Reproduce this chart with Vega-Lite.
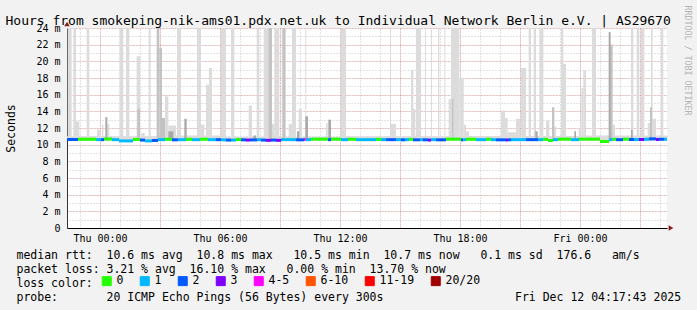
{
  "$schema": "https://vega.github.io/schema/vega-lite/v6.json",
  "width": 600,
  "height": 200,
  "autosize": {"type": "none"},
  "padding": {"left": 67, "top": 28, "right": 30, "bottom": 82},
  "background": "#f2f2f2",
  "config": {
    "font": "DejaVu Sans Mono",
    "view": {"fill": "#ffffff", "stroke": null}
  },
  "resolve": {"axis": {"x": "independent", "y": "independent"}},
  "datasets": {
    "smoke": [
      {"t": "2025-12-10T22:21", "t2": "2025-12-11T03:00", "lo": 10.45, "hi": 11.0, "s": "l"},
      {"t": "2025-12-11T03:00", "t2": "2025-12-11T06:00", "lo": 10.45, "hi": 11.1, "s": "l"},
      {"t": "2025-12-11T06:00", "t2": "2025-12-11T12:00", "lo": 10.45, "hi": 10.95, "s": "l"},
      {"t": "2025-12-11T12:00", "t2": "2025-12-11T18:00", "lo": 10.45, "hi": 11.0, "s": "l"},
      {"t": "2025-12-11T18:00", "t2": "2025-12-12T00:00", "lo": 10.45, "hi": 11.05, "s": "l"},
      {"t": "2025-12-12T00:00", "t2": "2025-12-12T04:21", "lo": 10.45, "hi": 11.1, "s": "l"},
      {"t": "2025-12-10T22:23", "t2": "2025-12-10T22:35", "lo": 10.5, "hi": 24, "s": "l"},
      {"t": "2025-12-10T22:40", "t2": "2025-12-10T22:48", "lo": 10.5, "hi": 24, "s": "l"},
      {"t": "2025-12-10T22:46", "t2": "2025-12-10T22:58", "lo": 10.5, "hi": 12.8, "s": "l"},
      {"t": "2025-12-10T23:20", "t2": "2025-12-10T23:28", "lo": 10.5, "hi": 24, "s": "l"},
      {"t": "2025-12-10T23:51", "t2": "2025-12-11T00:00", "lo": 10.5, "hi": 11.8, "s": "l"},
      {"t": "2025-12-11T00:06", "t2": "2025-12-11T00:10", "lo": 10.5, "hi": 12.4, "s": "l"},
      {"t": "2025-12-11T00:22", "t2": "2025-12-11T00:28", "lo": 10.5, "hi": 12.5, "s": "l"},
      {"t": "2025-12-11T00:58", "t2": "2025-12-11T01:10", "lo": 10.5, "hi": 24, "s": "l"},
      {"t": "2025-12-11T01:18", "t2": "2025-12-11T01:28", "lo": 10.5, "hi": 24, "s": "l"},
      {"t": "2025-12-11T01:50", "t2": "2025-12-11T02:00", "lo": 10.5, "hi": 20.6, "s": "l"},
      {"t": "2025-12-11T02:04", "t2": "2025-12-11T02:14", "lo": 10.5, "hi": 11.4, "s": "l"},
      {"t": "2025-12-11T02:26", "t2": "2025-12-11T02:32", "lo": 10.5, "hi": 24, "s": "l"},
      {"t": "2025-12-11T03:15", "t2": "2025-12-11T03:25", "lo": 10.5, "hi": 15.8, "s": "l"},
      {"t": "2025-12-11T03:25", "t2": "2025-12-11T03:48", "lo": 10.5, "hi": 12.3, "s": "l"},
      {"t": "2025-12-11T03:51", "t2": "2025-12-11T04:03", "lo": 10.5, "hi": 24, "s": "l"},
      {"t": "2025-12-11T04:51", "t2": "2025-12-11T05:03", "lo": 10.5, "hi": 24, "s": "l"},
      {"t": "2025-12-11T05:03", "t2": "2025-12-11T05:13", "lo": 10.5, "hi": 12.4, "s": "l"},
      {"t": "2025-12-11T05:18", "t2": "2025-12-11T05:27", "lo": 10.5, "hi": 17.2, "s": "l"},
      {"t": "2025-12-11T05:27", "t2": "2025-12-11T05:36", "lo": 10.5, "hi": 19.2, "s": "l"},
      {"t": "2025-12-11T06:03", "t2": "2025-12-11T06:18", "lo": 10.5, "hi": 24, "s": "l"},
      {"t": "2025-12-11T06:33", "t2": "2025-12-11T06:43", "lo": 10.5, "hi": 24, "s": "l"},
      {"t": "2025-12-11T07:26", "t2": "2025-12-11T07:36", "lo": 10.5, "hi": 14.7, "s": "l"},
      {"t": "2025-12-11T07:50", "t2": "2025-12-11T07:58", "lo": 10.5, "hi": 24, "s": "l"},
      {"t": "2025-12-11T08:11", "t2": "2025-12-11T08:28", "lo": 10.5, "hi": 24, "s": "l"},
      {"t": "2025-12-11T08:36", "t2": "2025-12-11T08:43", "lo": 10.5, "hi": 12.5, "s": "l"},
      {"t": "2025-12-11T08:43", "t2": "2025-12-11T08:58", "lo": 10.5, "hi": 24, "s": "l"},
      {"t": "2025-12-11T09:05", "t2": "2025-12-11T09:18", "lo": 10.5, "hi": 24, "s": "l"},
      {"t": "2025-12-11T09:26", "t2": "2025-12-11T09:36", "lo": 10.5, "hi": 12.5, "s": "l"},
      {"t": "2025-12-11T09:36", "t2": "2025-12-11T09:48", "lo": 10.5, "hi": 24, "s": "l"},
      {"t": "2025-12-11T09:56", "t2": "2025-12-11T10:06", "lo": 10.5, "hi": 14.3, "s": "l"},
      {"t": "2025-12-11T10:16", "t2": "2025-12-11T10:19", "lo": 10.5, "hi": 24, "s": "l"},
      {"t": "2025-12-11T11:18", "t2": "2025-12-11T11:23", "lo": 10.5, "hi": 12.6, "s": "l"},
      {"t": "2025-12-11T12:03", "t2": "2025-12-11T12:18", "lo": 10.5, "hi": 24, "s": "l"},
      {"t": "2025-12-11T14:30", "t2": "2025-12-11T14:33", "lo": 10.5, "hi": 24, "s": "l"},
      {"t": "2025-12-11T14:33", "t2": "2025-12-11T14:48", "lo": 10.5, "hi": 12.5, "s": "l"},
      {"t": "2025-12-11T15:33", "t2": "2025-12-11T15:40", "lo": 10.5, "hi": 19.0, "s": "l"},
      {"t": "2025-12-11T15:36", "t2": "2025-12-11T15:46", "lo": 10.5, "hi": 14.3, "s": "l"},
      {"t": "2025-12-11T15:48", "t2": "2025-12-11T16:03", "lo": 10.5, "hi": 24, "s": "l"},
      {"t": "2025-12-11T16:15", "t2": "2025-12-11T16:18", "lo": 10.5, "hi": 24, "s": "l"},
      {"t": "2025-12-11T16:33", "t2": "2025-12-11T16:36", "lo": 10.5, "hi": 24, "s": "l"},
      {"t": "2025-12-11T16:54", "t2": "2025-12-11T16:58", "lo": 10.5, "hi": 24, "s": "l"},
      {"t": "2025-12-11T17:13", "t2": "2025-12-11T17:16", "lo": 10.5, "hi": 24, "s": "l"},
      {"t": "2025-12-11T17:26", "t2": "2025-12-11T17:36", "lo": 10.5, "hi": 15.5, "s": "l"},
      {"t": "2025-12-11T17:33", "t2": "2025-12-11T17:58", "lo": 10.5, "hi": 24, "s": "l"},
      {"t": "2025-12-11T17:58", "t2": "2025-12-11T18:11", "lo": 10.5, "hi": 18.0, "s": "l"},
      {"t": "2025-12-11T18:11", "t2": "2025-12-11T18:18", "lo": 10.5, "hi": 12.4, "s": "l"},
      {"t": "2025-12-11T18:18", "t2": "2025-12-11T18:27", "lo": 10.5, "hi": 11.6, "s": "l"},
      {"t": "2025-12-11T20:03", "t2": "2025-12-11T20:15", "lo": 10.5, "hi": 14.1, "s": "l"},
      {"t": "2025-12-11T20:15", "t2": "2025-12-11T20:23", "lo": 10.5, "hi": 13.2, "s": "l"},
      {"t": "2025-12-11T20:23", "t2": "2025-12-11T20:48", "lo": 10.5, "hi": 11.5, "s": "l"},
      {"t": "2025-12-11T20:48", "t2": "2025-12-11T21:00", "lo": 10.5, "hi": 13.1, "s": "l"},
      {"t": "2025-12-11T21:03", "t2": "2025-12-11T21:18", "lo": 10.5, "hi": 19.2, "s": "l"},
      {"t": "2025-12-11T21:26", "t2": "2025-12-11T21:33", "lo": 10.5, "hi": 24, "s": "l"},
      {"t": "2025-12-11T21:41", "t2": "2025-12-11T21:48", "lo": 10.5, "hi": 24, "s": "l"},
      {"t": "2025-12-11T21:58", "t2": "2025-12-11T22:10", "lo": 10.5, "hi": 24, "s": "l"},
      {"t": "2025-12-11T22:18", "t2": "2025-12-11T22:28", "lo": 10.5, "hi": 12.9, "s": "l"},
      {"t": "2025-12-11T22:43", "t2": "2025-12-11T22:48", "lo": 10.5, "hi": 12.2, "s": "l"},
      {"t": "2025-12-11T23:03", "t2": "2025-12-11T23:10", "lo": 10.5, "hi": 24, "s": "l"},
      {"t": "2025-12-11T23:08", "t2": "2025-12-11T23:18", "lo": 10.5, "hi": 19.7, "s": "l"},
      {"t": "2025-12-11T23:56", "t2": "2025-12-12T00:03", "lo": 10.5, "hi": 12.0, "s": "l"},
      {"t": "2025-12-12T00:04", "t2": "2025-12-12T00:10", "lo": 10.5, "hi": 16.8, "s": "l"},
      {"t": "2025-12-12T00:10", "t2": "2025-12-12T00:18", "lo": 10.5, "hi": 18.9, "s": "l"},
      {"t": "2025-12-12T00:36", "t2": "2025-12-12T00:48", "lo": 10.5, "hi": 24, "s": "l"},
      {"t": "2025-12-12T01:38", "t2": "2025-12-12T01:45", "lo": 10.5, "hi": 12.4, "s": "l"},
      {"t": "2025-12-12T02:33", "t2": "2025-12-12T02:40", "lo": 10.5, "hi": 24, "s": "l"},
      {"t": "2025-12-12T02:50", "t2": "2025-12-12T02:58", "lo": 10.5, "hi": 24, "s": "l"},
      {"t": "2025-12-12T03:03", "t2": "2025-12-12T03:13", "lo": 10.5, "hi": 24, "s": "l"},
      {"t": "2025-12-12T03:23", "t2": "2025-12-12T03:30", "lo": 10.5, "hi": 12.6, "s": "l"},
      {"t": "2025-12-12T03:36", "t2": "2025-12-12T03:48", "lo": 10.5, "hi": 13.1, "s": "l"},
      {"t": "2025-12-12T03:33", "t2": "2025-12-12T03:38", "lo": 10.5, "hi": 24, "s": "l"},
      {"t": "2025-12-12T04:03", "t2": "2025-12-12T04:10", "lo": 10.5, "hi": 24, "s": "l"},
      {"t": "2025-12-11T01:52", "t2": "2025-12-11T02:00", "lo": 10.5, "hi": 14.3, "s": "m"},
      {"t": "2025-12-11T02:50", "t2": "2025-12-11T02:58", "lo": 10.5, "hi": 24, "s": "m"},
      {"t": "2025-12-11T02:58", "t2": "2025-12-11T03:06", "lo": 10.5, "hi": 21.6, "s": "m"},
      {"t": "2025-12-11T03:06", "t2": "2025-12-11T03:15", "lo": 10.5, "hi": 13.2, "s": "m"},
      {"t": "2025-12-11T08:26", "t2": "2025-12-11T08:36", "lo": 10.5, "hi": 24, "s": "m"},
      {"t": "2025-12-11T09:08", "t2": "2025-12-11T09:15", "lo": 10.5, "hi": 24, "s": "m"},
      {"t": "2025-12-11T17:36", "t2": "2025-12-11T17:40", "lo": 10.5, "hi": 15.5, "s": "m"},
      {"t": "2025-12-11T22:36", "t2": "2025-12-11T22:43", "lo": 10.5, "hi": 14.5, "s": "m"},
      {"t": "2025-12-12T01:31", "t2": "2025-12-12T01:38", "lo": 10.5, "hi": 22.0, "s": "m"},
      {"t": "2025-12-12T03:30", "t2": "2025-12-12T03:36", "lo": 10.5, "hi": 14.5, "s": "m"},
      {"t": "2025-12-11T00:16", "t2": "2025-12-11T00:22", "lo": 10.5, "hi": 13.3, "s": "d"},
      {"t": "2025-12-11T03:25", "t2": "2025-12-11T03:40", "lo": 10.5, "hi": 11.6, "s": "d"},
      {"t": "2025-12-11T04:13", "t2": "2025-12-11T04:20", "lo": 10.5, "hi": 13.1, "s": "d"},
      {"t": "2025-12-11T07:40", "t2": "2025-12-11T07:48", "lo": 10.5, "hi": 11.1, "s": "d"},
      {"t": "2025-12-11T09:51", "t2": "2025-12-11T09:58", "lo": 10.5, "hi": 11.6, "s": "d"},
      {"t": "2025-12-11T10:16", "t2": "2025-12-11T10:24", "lo": 10.5, "hi": 13.4, "s": "d"},
      {"t": "2025-12-11T11:25", "t2": "2025-12-11T11:33", "lo": 10.5, "hi": 13.0, "s": "d"},
      {"t": "2025-12-11T21:46", "t2": "2025-12-11T21:53", "lo": 10.5, "hi": 11.6, "s": "d"},
      {"t": "2025-12-11T23:43", "t2": "2025-12-11T23:48", "lo": 10.5, "hi": 11.6, "s": "d"},
      {"t": "2025-12-12T01:26", "t2": "2025-12-12T01:32", "lo": 10.5, "hi": 23.5, "s": "d"},
      {"t": "2025-12-12T02:33", "t2": "2025-12-12T02:38", "lo": 10.5, "hi": 11.8, "s": "d"}
    ],
    "median": [
      {"t": "2025-12-10T22:21", "t2": "2025-12-10T22:54", "m": 10.62, "c": "2"},
      {"t": "2025-12-10T22:54", "t2": "2025-12-10T23:48", "m": 10.65, "c": "0"},
      {"t": "2025-12-10T23:48", "t2": "2025-12-11T00:03", "m": 10.6, "c": "1"},
      {"t": "2025-12-11T00:03", "t2": "2025-12-11T00:12", "m": 10.6, "c": "2"},
      {"t": "2025-12-11T00:12", "t2": "2025-12-11T00:36", "m": 10.68, "c": "0"},
      {"t": "2025-12-11T00:36", "t2": "2025-12-11T00:57", "m": 10.6, "c": "1"},
      {"t": "2025-12-11T00:57", "t2": "2025-12-11T01:39", "m": 10.45, "c": "1"},
      {"t": "2025-12-11T01:39", "t2": "2025-12-11T02:00", "m": 10.62, "c": "0"},
      {"t": "2025-12-11T02:00", "t2": "2025-12-11T02:15", "m": 10.55, "c": "2"},
      {"t": "2025-12-11T02:15", "t2": "2025-12-11T02:36", "m": 10.45, "c": "1"},
      {"t": "2025-12-11T02:36", "t2": "2025-12-11T02:54", "m": 10.5, "c": "2"},
      {"t": "2025-12-11T02:54", "t2": "2025-12-11T03:15", "m": 10.6, "c": "1"},
      {"t": "2025-12-11T03:15", "t2": "2025-12-11T03:36", "m": 10.65, "c": "0"},
      {"t": "2025-12-11T03:36", "t2": "2025-12-11T03:54", "m": 10.58, "c": "2"},
      {"t": "2025-12-11T03:54", "t2": "2025-12-11T04:18", "m": 10.6, "c": "1"},
      {"t": "2025-12-11T04:18", "t2": "2025-12-11T04:36", "m": 10.64, "c": "0"},
      {"t": "2025-12-11T04:36", "t2": "2025-12-11T05:00", "m": 10.6, "c": "1"},
      {"t": "2025-12-11T05:00", "t2": "2025-12-11T05:24", "m": 10.65, "c": "0"},
      {"t": "2025-12-11T05:24", "t2": "2025-12-11T05:48", "m": 10.6, "c": "1"},
      {"t": "2025-12-11T05:48", "t2": "2025-12-11T06:03", "m": 10.6, "c": "2"},
      {"t": "2025-12-11T06:03", "t2": "2025-12-11T06:18", "m": 10.58, "c": "1"},
      {"t": "2025-12-11T06:18", "t2": "2025-12-11T06:33", "m": 10.55, "c": "2"},
      {"t": "2025-12-11T06:33", "t2": "2025-12-11T06:48", "m": 10.55, "c": "1"},
      {"t": "2025-12-11T06:48", "t2": "2025-12-11T07:03", "m": 10.62, "c": "0"},
      {"t": "2025-12-11T07:03", "t2": "2025-12-11T07:18", "m": 10.58, "c": "2"},
      {"t": "2025-12-11T07:18", "t2": "2025-12-11T07:30", "m": 10.55, "c": "3"},
      {"t": "2025-12-11T07:30", "t2": "2025-12-11T07:53", "m": 10.57, "c": "2"},
      {"t": "2025-12-11T07:53", "t2": "2025-12-11T08:03", "m": 10.6, "c": "1"},
      {"t": "2025-12-11T08:03", "t2": "2025-12-11T08:18", "m": 10.55, "c": "2"},
      {"t": "2025-12-11T08:18", "t2": "2025-12-11T08:33", "m": 10.52, "c": "3"},
      {"t": "2025-12-11T08:33", "t2": "2025-12-11T08:48", "m": 10.55, "c": "2"},
      {"t": "2025-12-11T08:48", "t2": "2025-12-11T09:03", "m": 10.52, "c": "3"},
      {"t": "2025-12-11T09:03", "t2": "2025-12-11T09:48", "m": 10.6, "c": "1"},
      {"t": "2025-12-11T09:48", "t2": "2025-12-11T10:12", "m": 10.58, "c": "2"},
      {"t": "2025-12-11T10:12", "t2": "2025-12-11T10:17", "m": 10.62, "c": "4-5"},
      {"t": "2025-12-11T10:17", "t2": "2025-12-11T10:33", "m": 10.6, "c": "1"},
      {"t": "2025-12-11T10:33", "t2": "2025-12-11T11:24", "m": 10.66, "c": "0"},
      {"t": "2025-12-11T11:24", "t2": "2025-12-11T11:33", "m": 10.6, "c": "2"},
      {"t": "2025-12-11T11:33", "t2": "2025-12-11T12:03", "m": 10.66, "c": "0"},
      {"t": "2025-12-11T12:03", "t2": "2025-12-11T12:24", "m": 10.6, "c": "1"},
      {"t": "2025-12-11T12:24", "t2": "2025-12-11T12:48", "m": 10.65, "c": "0"},
      {"t": "2025-12-11T12:48", "t2": "2025-12-11T13:48", "m": 10.6, "c": "1"},
      {"t": "2025-12-11T13:48", "t2": "2025-12-11T14:03", "m": 10.64, "c": "0"},
      {"t": "2025-12-11T14:03", "t2": "2025-12-11T14:18", "m": 10.6, "c": "1"},
      {"t": "2025-12-11T14:18", "t2": "2025-12-11T14:48", "m": 10.6, "c": "2"},
      {"t": "2025-12-11T14:48", "t2": "2025-12-11T15:03", "m": 10.6, "c": "1"},
      {"t": "2025-12-11T15:03", "t2": "2025-12-11T15:15", "m": 10.58, "c": "2"},
      {"t": "2025-12-11T15:15", "t2": "2025-12-11T15:27", "m": 10.6, "c": "1"},
      {"t": "2025-12-11T15:27", "t2": "2025-12-11T15:39", "m": 10.64, "c": "0"},
      {"t": "2025-12-11T15:39", "t2": "2025-12-11T16:00", "m": 10.58, "c": "2"},
      {"t": "2025-12-11T16:00", "t2": "2025-12-11T16:08", "m": 10.6, "c": "1"},
      {"t": "2025-12-11T16:08", "t2": "2025-12-11T16:24", "m": 10.58, "c": "2"},
      {"t": "2025-12-11T16:24", "t2": "2025-12-11T16:33", "m": 10.55, "c": "3"},
      {"t": "2025-12-11T16:33", "t2": "2025-12-11T16:48", "m": 10.6, "c": "1"},
      {"t": "2025-12-11T16:48", "t2": "2025-12-11T17:18", "m": 10.58, "c": "2"},
      {"t": "2025-12-11T17:18", "t2": "2025-12-11T18:03", "m": 10.66, "c": "0"},
      {"t": "2025-12-11T18:03", "t2": "2025-12-11T18:10", "m": 10.58, "c": "2"},
      {"t": "2025-12-11T18:10", "t2": "2025-12-11T18:18", "m": 10.6, "c": "1"},
      {"t": "2025-12-11T18:18", "t2": "2025-12-11T18:48", "m": 10.65, "c": "0"},
      {"t": "2025-12-11T18:48", "t2": "2025-12-11T19:18", "m": 10.6, "c": "1"},
      {"t": "2025-12-11T19:18", "t2": "2025-12-11T19:33", "m": 10.65, "c": "0"},
      {"t": "2025-12-11T19:33", "t2": "2025-12-11T19:48", "m": 10.6, "c": "1"},
      {"t": "2025-12-11T19:48", "t2": "2025-12-11T20:18", "m": 10.58, "c": "2"},
      {"t": "2025-12-11T20:18", "t2": "2025-12-11T20:24", "m": 10.55, "c": "3"},
      {"t": "2025-12-11T20:24", "t2": "2025-12-11T20:33", "m": 10.58, "c": "2"},
      {"t": "2025-12-11T20:33", "t2": "2025-12-11T21:18", "m": 10.6, "c": "1"},
      {"t": "2025-12-11T21:18", "t2": "2025-12-11T21:54", "m": 10.6, "c": "2"},
      {"t": "2025-12-11T21:54", "t2": "2025-12-11T22:09", "m": 10.6, "c": "1"},
      {"t": "2025-12-11T22:09", "t2": "2025-12-11T22:24", "m": 10.64, "c": "0"},
      {"t": "2025-12-11T22:24", "t2": "2025-12-11T22:39", "m": 10.5, "c": "0"},
      {"t": "2025-12-11T22:39", "t2": "2025-12-11T22:54", "m": 10.6, "c": "1"},
      {"t": "2025-12-11T22:54", "t2": "2025-12-11T23:33", "m": 10.66, "c": "0"},
      {"t": "2025-12-11T23:33", "t2": "2025-12-11T23:57", "m": 10.6, "c": "1"},
      {"t": "2025-12-11T23:57", "t2": "2025-12-12T01:00", "m": 10.66, "c": "0"},
      {"t": "2025-12-12T01:00", "t2": "2025-12-12T01:27", "m": 10.38, "c": "0"},
      {"t": "2025-12-12T01:27", "t2": "2025-12-12T01:38", "m": 10.6, "c": "1"},
      {"t": "2025-12-12T01:38", "t2": "2025-12-12T01:48", "m": 10.64, "c": "0"},
      {"t": "2025-12-12T01:48", "t2": "2025-12-12T02:09", "m": 10.6, "c": "2"},
      {"t": "2025-12-12T02:09", "t2": "2025-12-12T02:27", "m": 10.66, "c": "0"},
      {"t": "2025-12-12T02:27", "t2": "2025-12-12T02:42", "m": 10.62, "c": "2"},
      {"t": "2025-12-12T02:42", "t2": "2025-12-12T02:57", "m": 10.62, "c": "1"},
      {"t": "2025-12-12T02:57", "t2": "2025-12-12T03:12", "m": 10.62, "c": "3"},
      {"t": "2025-12-12T03:12", "t2": "2025-12-12T03:27", "m": 10.65, "c": "1"},
      {"t": "2025-12-12T03:27", "t2": "2025-12-12T03:48", "m": 10.7, "c": "2"},
      {"t": "2025-12-12T03:48", "t2": "2025-12-12T03:57", "m": 10.62, "c": "3"},
      {"t": "2025-12-12T03:57", "t2": "2025-12-12T04:12", "m": 10.65, "c": "2"},
      {"t": "2025-12-12T04:12", "t2": "2025-12-12T04:21", "m": 10.65, "c": "1"}
    ]
  },
  "layer": [
    {
      "data": {"name": "smoke"},
      "mark": {"type": "rect"},
      "encoding": {
        "x": {
          "field": "t", "type": "temporal",
          "scale": {"domain": [{"year": 2025, "month": 12, "date": 10, "hours": 22, "minutes": 21}, {"year": 2025, "month": 12, "date": 12, "hours": 4, "minutes": 21}], "nice": false},
          "axis": {
            "orient": "bottom",
            "tickCount": 10,
            "grid": true, "gridColor": "#ff0000", "gridOpacity": 0.4, "gridDash": [1, 2],
            "domainColor": "#000000", "domainWidth": 1,
            "ticks": false,
            "labelExpr": "hours(datum.value) % 6 == 0 ? timeFormat(datum.value, '%a %H:%M') : ''",
            "labelFont": "DejaVu Sans Mono", "labelFontSize": 10, "labelColor": "#000000",
            "labelPadding": 5, "labelOverlap": false, "labelFlush": false,
            "title": [
              "median rtt:\u00a0\u00a010.6 ms avg\u00a0\u00a010.8 ms max\u00a0\u00a0\u00a010.5 ms min\u00a0\u00a010.7 ms now\u00a0\u00a0\u00a00.1 ms sd\u00a0\u00a0176.6\u00a0\u00a0\u00a0am/s",
              "packet loss: 3.21 % avg\u00a0\u00a016.10 % max\u00a0\u00a0\u00a00.00 % min\u00a0\u00a013.70 % now",
              "loss color:",
              "probe:\u00a0\u00a0\u00a0\u00a0\u00a0\u00a0\u00a020 ICMP Echo Pings (56 Bytes) every 300s\u00a0\u00a0\u00a0\u00a0\u00a0\u00a0\u00a0\u00a0\u00a0\u00a0\u00a0\u00a0\u00a0\u00a0\u00a0\u00a0\u00a0\u00a0\u00a0Fri Dec 12 04:17:43 2025"
            ],
            "titleX": -51, "titleY": 30, "titleAlign": "left", "titleBaseline": "alphabetic",
            "titleFont": "DejaVu Sans Mono", "titleFontSize": 11.5, "titleFontWeight": "normal",
            "titleColor": "#000000", "titleLineHeight": 14
          }
        },
        "x2": {"field": "t2"},
        "y": {
          "field": "lo", "type": "quantitative",
          "scale": {"domain": [0, 24], "nice": false, "zero": false},
          "axis": {
            "orient": "left",
            "values": [0, 2, 4, 6, 8, 10, 12, 14, 16, 18, 20, 22, 24],
            "grid": true, "gridColor": "#ff0000", "gridOpacity": 0.4, "gridDash": [1, 2],
            "domainColor": "#333333", "domainWidth": 1,
            "ticks": false,
            "labelPadding": 7,
            "labelExpr": "datum.value == 0 ? '0\u00a0\u00a0' : datum.value + ' m'",
            "labelFont": "DejaVu Sans Mono", "labelFontSize": 10, "labelColor": "#000000",
            "title": "Seconds",
            "titleX": -56, "titleY": 100, "titleAngle": -90, "titleAlign": "center", "titleBaseline": "middle",
            "titleFont": "DejaVu Sans Mono", "titleFontSize": 11.5, "titleFontWeight": "normal", "titleColor": "#000000"
          }
        },
        "y2": {"field": "hi"},
        "fill": {
          "field": "s", "type": "nominal",
          "scale": {"domain": ["l", "m", "d"], "range": ["#dcdcdc", "#c3c3c3", "#a9a9a9"]},
          "legend": null
        }
      }
    },
    {
      "data": {"name": "median"},
      "mark": {"type": "square", "size": 0, "filled": true, "opacity": 1},
      "encoding": {
        "x": {"field": "t", "type": "temporal", "axis": null},
        "y": {"field": "m", "type": "quantitative", "axis": null},
        "color": {
          "field": "c", "type": "nominal",
          "scale": {
            "domain": ["0", "1", "2", "3", "4-5", "6-10", "11-19", "20/20"],
            "range": ["#26ff00", "#00b8ff", "#0059ff", "#7e00ff", "#ff00ff", "#ff5500", "#ff0000", "#a10000"]
          },
          "legend": {
            "orient": "none", "legendX": 34, "legendY": 247,
            "direction": "horizontal",
            "title": null,
            "labelFont": "DejaVu Sans Mono", "labelFontSize": 11.5, "labelColor": "#000000",
            "labelOffset": 4, "columnPadding": 14,
            "symbolType": "square", "symbolSize": 81, "symbolStrokeWidth": 1, "symbolStrokeColor": "#000000", "symbolOpacity": 1
          }
        }
      }
    },
    {
      "data": {"name": "median"},
      "mark": {"type": "rule", "strokeWidth": 3},
      "encoding": {
        "x": {
          "field": "t", "type": "temporal",
          "axis": {
            "orient": "top",
            "tickCount": 30,
            "grid": true, "gridColor": "#999999", "gridOpacity": 0.55, "gridDash": [1, 2],
            "domain": false, "ticks": false, "labels": false,
            "title": "Hours from smokeping-nik-ams01.pdx.net.uk to Individual Network Berlin e.V. | AS29670",
            "titleX": -62, "titleY": -4, "titleAlign": "left", "titleBaseline": "alphabetic",
            "titleFont": "DejaVu Sans Mono", "titleFontSize": 13, "titleFontWeight": "normal", "titleColor": "#000000"
          }
        },
        "x2": {"field": "t2"},
        "y": {
          "field": "m", "type": "quantitative",
          "axis": {
            "orient": "right",
            "values": [0, 1, 2, 3, 4, 5, 6, 7, 8, 9, 10, 11, 12, 13, 14, 15, 16, 17, 18, 19, 20, 21, 22, 23, 24],
            "grid": true, "gridColor": "#999999", "gridOpacity": 0.55, "gridDash": [1, 2],
            "domain": false, "ticks": false, "labels": false,
            "title": "RRDTOOL / TOBI OETIKER",
            "titleX": 19, "titleY": -23, "titleAngle": 90, "titleAlign": "left", "titleBaseline": "middle",
            "titleFont": "DejaVu Sans Mono", "titleFontSize": 8.3, "titleFontWeight": "normal", "titleColor": "#b4b4b4"
          }
        },
        "color": {"field": "c", "type": "nominal", "legend": null}
      }
    },
    {
      "data": {"values": [{"t": "2025-12-10T22:21", "v": 24}]},
      "mark": {"type": "point", "shape": "triangle-up", "filled": true, "size": 30, "color": "#8b1a1a", "opacity": 1, "yOffset": -4},
      "encoding": {
        "x": {"field": "t", "type": "temporal", "axis": null},
        "y": {"field": "v", "type": "quantitative", "axis": null}
      }
    },
    {
      "data": {"values": [{"t": "2025-12-12T04:21", "v": 0}]},
      "mark": {"type": "point", "shape": "triangle-right", "filled": true, "size": 30, "color": "#8b1a1a", "opacity": 1, "xOffset": 4},
      "encoding": {
        "x": {"field": "t", "type": "temporal", "axis": null},
        "y": {"field": "v", "type": "quantitative", "axis": null}
      }
    }
  ]
}
